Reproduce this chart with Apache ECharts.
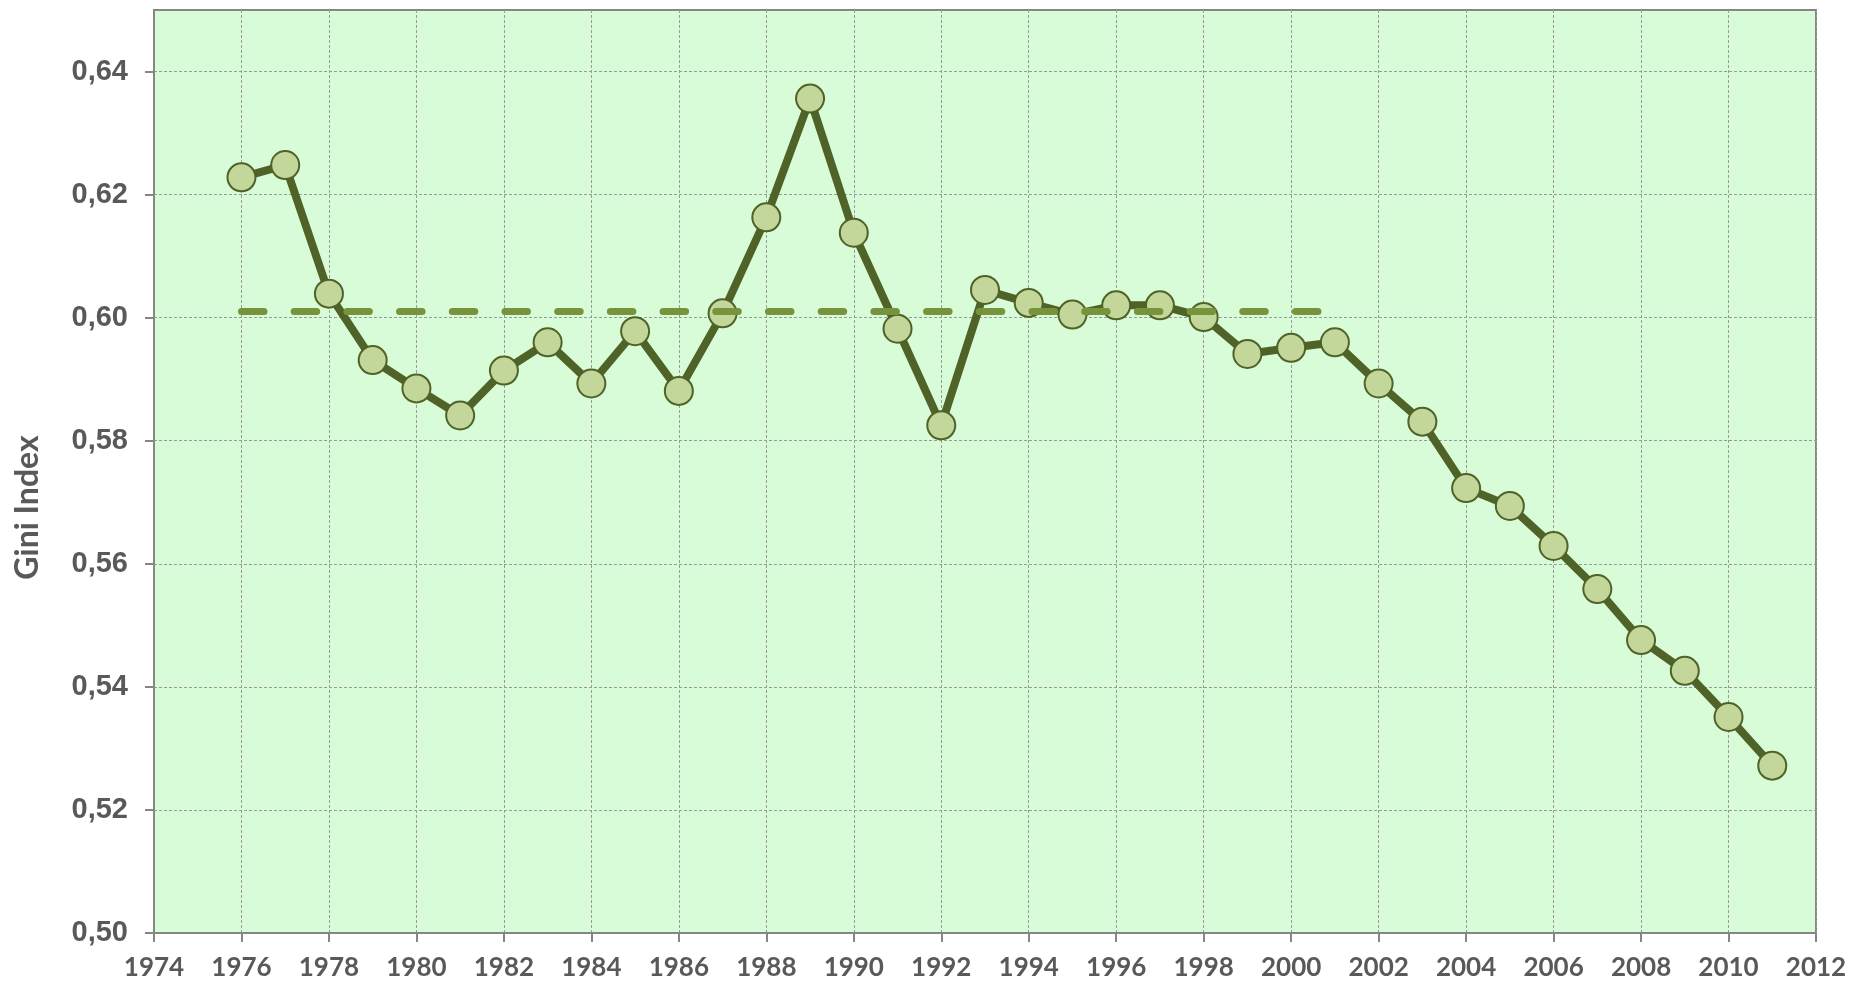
<!DOCTYPE html>
<html lang="en" style="height: 100%">
<head>
  <meta charset="utf-8">
</head>
<body style="height: 100%; margin: 0; background: #ffffff">
  <div id="container" style="width: 1860px; height: 985px"></div>

  <script type="text/javascript" src="https://cdn.jsdelivr.net/npm/echarts@6/dist/echarts.min.js"></script>
  <script type="text/javascript">
    // Gini index per year
    var years = [1976, 1977, 1978, 1979, 1980, 1981, 1982, 1983, 1984, 1985,
                 1986, 1987, 1988, 1989, 1990, 1991, 1992, 1993, 1994, 1995,
                 1996, 1997, 1998, 1999, 2000, 2001, 2002, 2003, 2004, 2005,
                 2006, 2007, 2008, 2009, 2010, 2011];
    var gini = [0.6228, 0.6248, 0.6039, 0.5931, 0.5885, 0.5841, 0.5914, 0.5960, 0.5893, 0.5978,
                0.5881, 0.6007, 0.6163, 0.6356, 0.6138, 0.5982, 0.5825, 0.6045, 0.6024, 0.6005,
                0.6020, 0.6020, 0.6001, 0.5941, 0.5951, 0.5960, 0.5893, 0.5831, 0.5723, 0.5694,
                0.5629, 0.5559, 0.5476, 0.5426, 0.5351, 0.5272];

    // average level (dashed line)
    var meanYears = [1976, 2001];
    var meanValue = [0.6010, 0.6010];

    var yTicks = [0.50, 0.52, 0.54, 0.56, 0.58, 0.60, 0.62, 0.64];

    var dom = document.getElementById('container');
    var myChart = echarts.init(dom, null, { renderer: 'canvas' });

    var gridLine = {
      show: true,
      lineStyle: { color: '#9a9a9a', width: 1, type: [3, 2] }
    };

    var option = {
      animation: false,
      backgroundColor: '#ffffff',
      grid: {
        left: 154,
        top: 10,
        right: 44,
        bottom: 52,
        show: true,
        backgroundColor: '#d8fcd8',
        borderColor: '#868686',
        borderWidth: 2
      },
      xAxis: {
        type: 'value',
        min: 1974,
        max: 2012,
        interval: 2,
        axisLine: { show: true, lineStyle: { color: '#868686', width: 2 } },
        axisTick: { show: true, length: 9, inside: false, lineStyle: { color: '#868686', width: 2 } },
        axisLabel: {
          margin: 22,
          color: '#595959',
          fontFamily: 'Lato',
          fontWeight: 'bold',
          fontSize: 26,
          formatter: function (v) { return String(v); }
        },
        splitLine: gridLine
      },
      yAxis: {
        type: 'value',
        min: 0.50,
        max: 0.65,
        interval: 0.02,
        name: 'Gini Index',
        nameLocation: 'middle',
        nameRotate: 90,
        nameGap: 110,
        nameTextStyle: {
          color: '#595959',
          fontFamily: 'Lato',
          fontWeight: 'bold',
          fontSize: 32,
          // Excel puts the title a little below the middle
          padding: [0, 72, 0, 0]
        },
        axisLine: { show: true, lineStyle: { color: '#868686', width: 2 } },
        axisTick: { show: true, length: 9, customValues: yTicks, lineStyle: { color: '#868686', width: 2 } },
        axisLabel: {
          margin: 26,
          color: '#595959',
          fontFamily: 'Liberation Sans',
          fontWeight: 'bold',
          fontSize: 29,
          customValues: yTicks,
          formatter: function (v) { return v.toFixed(2).replace('.', ','); }
        },
        splitLine: gridLine
      },
      series: [
        {
          type: 'line',
          data: years.map(function (y, i) { return [y, gini[i]]; }),
          symbol: 'circle',
          symbolSize: 28,
          lineStyle: { color: '#4f6228', width: 8 },
          itemStyle: { color: '#c4d79b', borderColor: '#4f6228', borderWidth: 2 },
          z: 2
        },
        {
          type: 'line',
          data: meanYears.map(function (y, i) { return [y, meanValue[i]]; }),
          showSymbol: false,
          symbol: 'none',
          lineStyle: { color: '#77933c', width: 7, type: [22.5, 30.2], cap: 'round' },
          z: 3
        }
      ]
    };

    myChart.setOption(option);
    window.addEventListener('resize', myChart.resize);
  </script>
</body>
</html>
